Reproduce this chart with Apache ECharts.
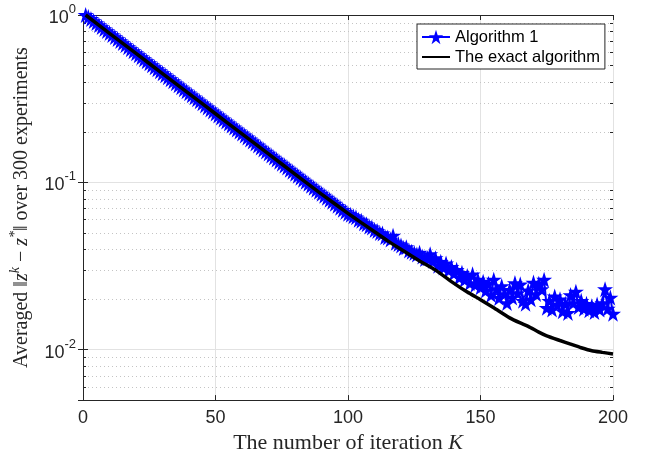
<!DOCTYPE html>
<html><head><meta charset="utf-8">
<script src="https://cdn.jsdelivr.net/npm/echarts@6/dist/echarts.min.js"></script>
<style>html,body{margin:0;padding:0;background:#fff}#c{width:651px;height:459px}</style>
</head><body><div id="c"></div>
<script>
// Algorithm 1 (k = 1..200)
const algo1Values = [
1.0,0.9727,0.9462,0.9204,0.8954,0.8710,0.8472,0.8241,0.8017,0.7798,
0.7586,0.7379,0.7178,0.6982,0.6792,0.6607,0.6427,0.6252,0.6081,0.5916,
0.5754,0.5598,0.5445,0.5297,0.5152,0.5012,0.4875,0.4742,0.4613,0.4487,
0.4365,0.4246,0.4130,0.4018,0.3908,0.3802,0.3698,0.3597,0.3499,0.3404,
0.3311,0.3221,0.3133,0.3048,0.2965,0.2884,0.2805,0.2729,0.2655,0.2582,
0.2512,0.2443,0.2377,0.2312,0.2249,0.2188,0.2128,0.2070,0.2014,0.1959,
0.1905,0.1854,0.1803,0.1754,0.1706,0.1660,0.1614,0.1570,0.1528,0.1486,
0.1445,0.1406,0.1368,0.1330,0.1294,0.1259,0.1225,0.1191,0.1159,0.1127,
0.1096,0.1067,0.1038,0.1009,0.0982,0.0955,0.0929,0.0904,0.0879,0.0855,
0.0832,0.0809,0.0787,0.0766,0.0745,0.0724,0.0705,0.0685,0.0667,0.0649,
0.0640,0.0628,0.0618,0.0598,0.0590,0.0570,0.0561,0.0545,0.0538,0.0520,
0.0512,0.0498,0.0495,0.0472,0.0468,0.0455,0.0480,0.0436,0.0428,0.0420,
0.0405,0.0410,0.0392,0.0385,0.0378,0.0371,0.0380,0.0360,0.0348,0.0352,
0.0372,0.0340,0.0352,0.0318,0.0335,0.0310,0.0328,0.0298,0.0312,0.0286,
0.0300,0.0270,0.0288,0.0262,0.0276,0.0250,0.0282,0.0244,0.0262,0.0236,
0.0255,0.0226,0.0248,0.0212,0.0262,0.0230,0.0204,0.0240,0.0215,0.0190,
0.0228,0.0205,0.0250,0.0218,0.0246,0.0196,0.0188,0.0226,0.0200,0.0252,
0.0215,0.0248,0.0230,0.0262,0.0178,0.0196,0.0174,0.0208,0.0185,0.0200,
0.0170,0.0188,0.0166,0.0212,0.0190,0.0222,0.0180,0.0196,0.0176,0.0188,
0.0172,0.0182,0.0168,0.0186,0.0174,0.0190,0.0230,0.0176,0.0205,0.0164
];
// The exact algorithm
const exactK = [1,10,20,30,40,50,60,70,80,90,100,105,110,115,120,127,133,140,145,150,155,161,165,168,172,175,180,184,188,192,196,200];
const exactValues = [1.0,0.776,0.589,0.447,0.339,0.257,0.195,0.148,0.112,0.0851,0.0653,0.0575,0.0507,0.0447,0.0398,0.0339,0.0299,0.0249,0.0221,0.0199,0.0178,0.0155,0.01445,0.0138,0.01274,0.0121,0.01135,0.0108,0.01028,0.00986,0.00964,0.00944];
// minor grid values on the log axis
const minorTickValues = [0.006,0.007,0.008,0.009,0.02,0.03,0.04,0.05,0.06,0.07,0.08,0.09,0.2,0.3,0.4,0.5,0.6,0.7,0.8,0.9];
const xTicks = [0,50,100,150,200];

const algo1Data = algo1Values.map((v,i)=>[i+1, v]);
const exactData = exactK.map((k,i)=>[k, exactValues[i]]);

const star = 'path://M50,0 L61.8,36.2 L100,36.2 L69.1,58.6 L80.9,95 L50,72.6 L19.1,95 L30.9,58.6 L0,36.2 L38.2,36.2 Z';
const axisColor = '#262626';
const sans = 'Liberation Sans, Arial, Helvetica, sans-serif';
const serif = 'Liberation Serif, Times New Roman, DejaVu Serif, serif';

const chart = echarts.init(document.getElementById('c'), null, {renderer:'canvas'});
const yLabelFmt = v => {
  const l = Math.log10(v), e = Math.round(l);
  if (Math.abs(l - e) > 1e-6) return '';
  return '{b|10}{s|' + e + '}';
};
const yRich = {
  b:{fontSize:18, fontFamily:sans, color:axisColor, lineHeight:24, verticalAlign:'bottom'},
  s:{fontSize:13, fontFamily:sans, color:axisColor, verticalAlign:'top'}
};
chart.setOption({
  animation:false,
  backgroundColor:'#fff',
  grid:{left:80, right:38, top:15, bottom:54, containLabel:false},
  legend:{
    orient:'vertical', left:417, top:24, padding:[3,5,2,4], itemGap:0,
    itemWidth:28, itemHeight:18, backgroundColor:'#fff', borderColor:axisColor, borderWidth:1,
    data:[{name:'Algorithm 1'}, {name:'The exact algorithm', itemStyle:{opacity:0}}],
    textStyle:{fontSize:16.5, fontFamily:sans, color:'#000', lineHeight:20}
  },
  xAxis:[{
    type:'value', min:0, max:200, interval:50,
    axisLine:{lineStyle:{color:axisColor, width:1}},
    axisTick:{inside:true, length:5, lineStyle:{color:axisColor}},
    axisLabel:{fontSize:18, fontFamily:sans, color:axisColor, margin:9},
    splitLine:{show:true, lineStyle:{color:'#e2e2e2', width:1}},
    name:'{n|The number of iteration }{i|K}', nameLocation:'middle', nameGap:25,
    nameTextStyle:{rich:{n:{fontSize:22, fontFamily:serif, color:axisColor}, i:{fontSize:22, fontFamily:serif, fontStyle:'italic', color:axisColor}}}
  },{
    type:'value', min:0, max:200, interval:50, position:'top',
    axisLine:{lineStyle:{color:axisColor, width:1}},
    axisTick:{inside:true, length:5, lineStyle:{color:axisColor}},
    axisLabel:{show:false}, splitLine:{show:false}
  }],
  yAxis:[{
    type:'log', logBase:10, min:0.005, max:1,
    axisLine:{show:true, lineStyle:{color:axisColor, width:1}},
    axisTick:{inside:true, length:5, lineStyle:{color:axisColor}},
    axisLabel:{formatter:yLabelFmt, rich:yRich, margin:7},
    splitLine:{show:true, lineStyle:{color:'#e2e2e2', width:1}},
    name:'{n|Averaged ‖}{i|z}{sup|k}{n| − }{i|z}{sup|*}{n|‖ over 300 experiments}',
    nameLocation:'middle', nameGap:51, nameRotate:90,
    nameTextStyle:{rich:{
      n:{fontSize:20, fontFamily:serif, color:axisColor, lineHeight:24, verticalAlign:'bottom'},
      i:{fontSize:20, fontFamily:serif, fontStyle:'italic', color:axisColor, lineHeight:24, verticalAlign:'bottom'},
      sup:{fontSize:14, fontFamily:serif, fontStyle:'italic', color:axisColor, verticalAlign:'top'}
    }}
  },{
    type:'log', logBase:10, min:0.005, max:1, position:'right',
    axisLine:{show:true, lineStyle:{color:axisColor, width:1}},
    axisTick:{inside:true, length:5, lineStyle:{color:axisColor}},
    axisLabel:{show:false}, splitLine:{show:false}
  }],
  series:[
    {
      type:'custom', name:'minor', silent:true, z:1, xAxisIndex:0, yAxisIndex:0,
      data:minorTickValues.map(v=>[0, v]),
      renderItem:(params, api)=>{
        const v = api.value(1);
        const p0 = api.coord([0, v]), p1 = api.coord([200, v]);
        const y = Math.round(p0[1]) + 0.5;
        return {type:'group', children:[
          {type:'line', shape:{x1:p0[0]+1, y1:y, x2:p1[0]-1, y2:y}, style:{stroke:'#c4c4c4', lineWidth:1, lineDash:[1,3]}},
          {type:'line', shape:{x1:p0[0], y1:y, x2:p0[0]+3, y2:y}, style:{stroke:axisColor, lineWidth:1}},
          {type:'line', shape:{x1:p1[0], y1:y, x2:p1[0]-3, y2:y}, style:{stroke:axisColor, lineWidth:1}}
        ]};
      }
    },
    {
      type:'line', name:'Algorithm 1', data:algo1Data, z:3,
      symbol:star, symbolSize:16, showAllSymbol:true,
      lineStyle:{color:'#0000ff', width:2},
      itemStyle:{color:'#0000ff', borderWidth:0}
    },
    {
      type:'line', name:'The exact algorithm', data:exactData, z:4, smooth:0.2,
      symbol:'none', lineStyle:{color:'#000', width:3.5},
      itemStyle:{color:'#000'}
    }
  ]
});
</script></body></html>
